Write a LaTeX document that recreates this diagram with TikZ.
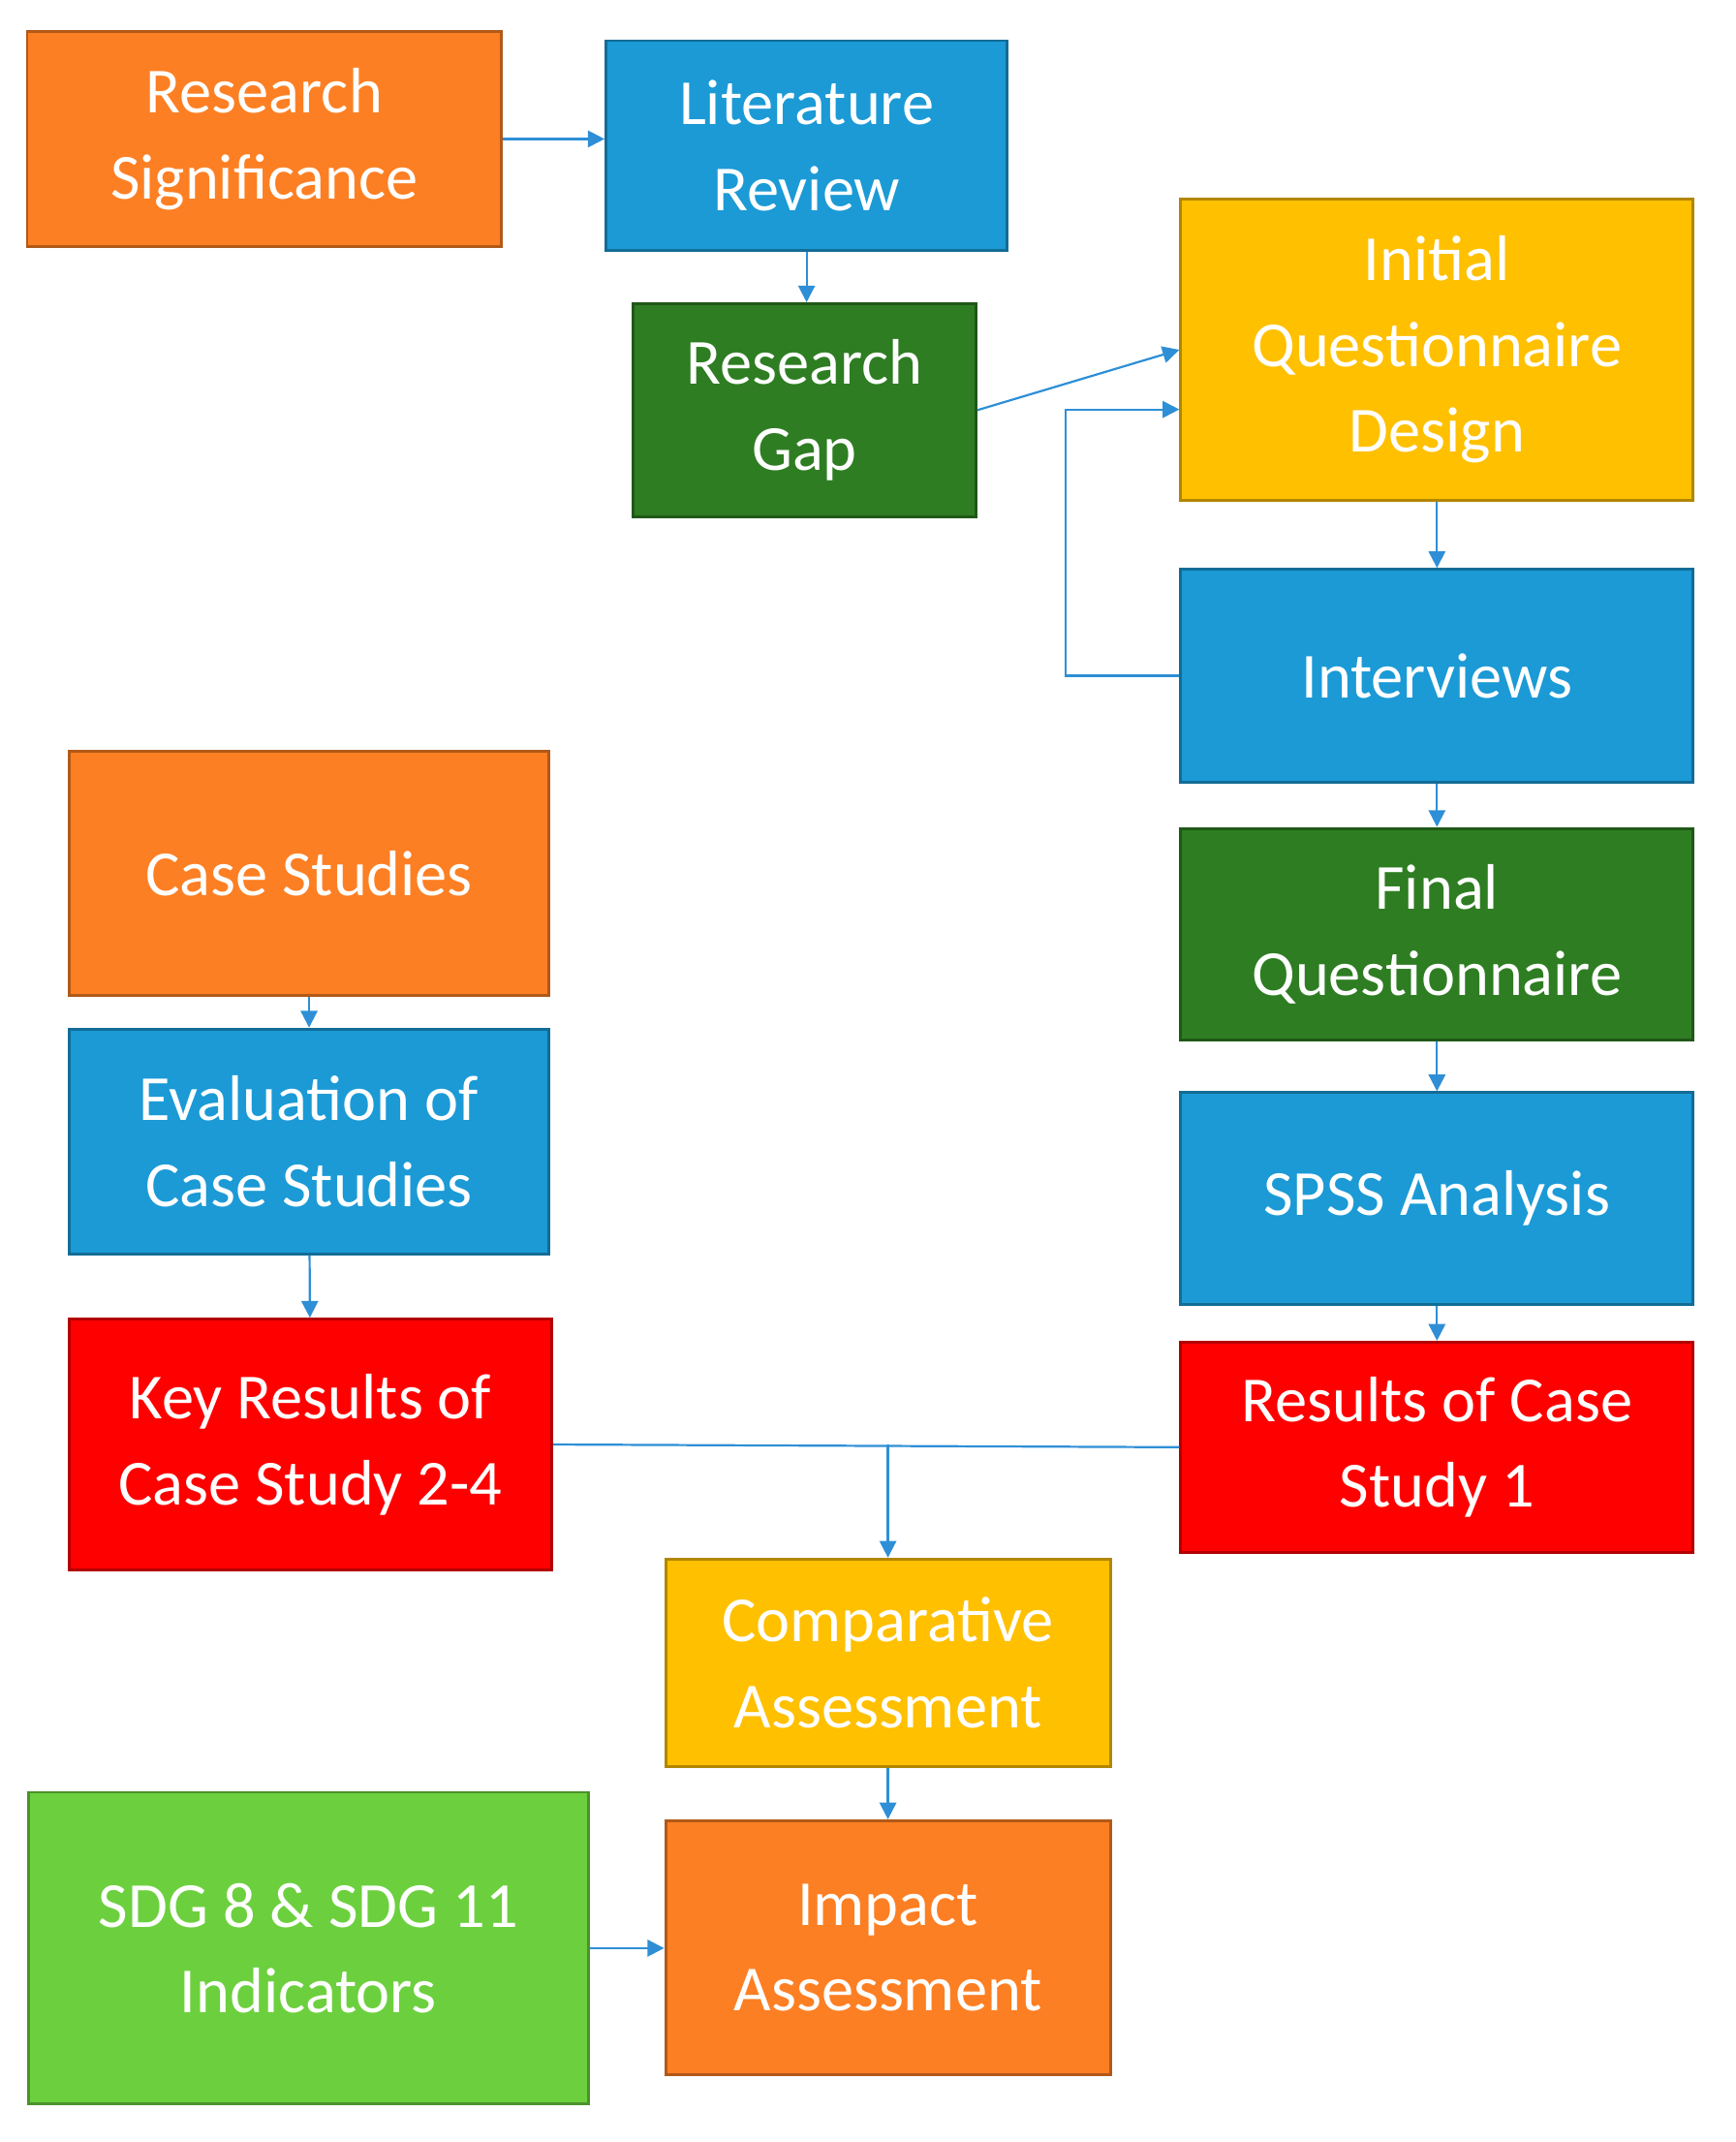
\documentclass[tikz,border=0pt]{standalone}
\usepackage{fontspec}
\setmainfont{Carlito}
\usetikzlibrary{arrows.meta}
\definecolor{cOrange}{HTML}{FD7F23}
\definecolor{cBlue}{HTML}{1B9AD6}
\definecolor{cDark}{HTML}{2E7D22}
\definecolor{cYellow}{HTML}{FFC000}
\definecolor{cRed}{HTML}{FF0000}
\definecolor{cLight}{HTML}{6CD03E}
\definecolor{cLine}{HTML}{2E8FD6}
\tikzset{
  box/.style={draw=#1!70!black, fill=#1, line width=1.2pt, text=white, align=center,
    inner sep=0pt, font=\fontsize{27}{36}\selectfont},
  link/.style={draw=cLine, line width=0.9pt, -{Triangle[length=7pt,width=7pt]}}
}
\begin{document}
\begin{tikzpicture}
    \useasboundingbox (0,0) rectangle (25.6,-31.6);
    % --- --- --- top row
    \node[box=cOrange, minimum width=7cm, minimum height=3.18cm] (sig) at (3.9,-2.05) {Research\\Significance};
    \node[box=cBlue, minimum width=5.92cm, minimum height=3.1cm] (lit) at (11.9,-2.15) {Literature\\Review};
    \node[box=cDark, minimum width=5.06cm, minimum height=3.14cm] (gap) at (11.87,-6.05) {Research\\Gap};
    % --- --- --- right column
    \node[box=cYellow, minimum width=7.56cm, minimum height=4.44cm] (iqd) at (21.2,-5.16) {Initial\\Questionnaire\\Design};
    \node[box=cBlue, minimum width=7.56cm, minimum height=3.14cm] (int) at (21.2,-9.97) {Interviews};
    \node[box=cDark, minimum width=7.56cm, minimum height=3.12cm] (fq) at (21.2,-13.78) {Final\\Questionnaire};
    \node[box=cBlue, minimum width=7.56cm, minimum height=3.12cm] (spss) at (21.2,-17.68) {SPSS Analysis};
    \node[box=cRed, minimum width=7.56cm, minimum height=3.1cm] (res) at (21.2,-21.35) {Results of Case\\Study 1};
    % --- --- --- left column
    \node[box=cOrange, minimum width=7.08cm, minimum height=3.6cm] (cs) at (4.56,-12.88) {Case Studies};
    \node[box=cBlue, minimum width=7.08cm, minimum height=3.32cm] (eval) at (4.56,-16.84) {Evaluation of\\Case Studies};
    \node[box=cRed, minimum width=7.12cm, minimum height=3.7cm] (key) at (4.58,-21.31) {Key Results of\\Case Study 2-4};
    % --- --- --- bottom
    \node[box=cYellow, minimum width=6.56cm, minimum height=3.06cm] (comp) at (13.1,-24.53) {Comparative\\Assessment};
    \node[box=cOrange, minimum width=6.56cm, minimum height=3.74cm] (imp) at (13.1,-28.73) {Impact\\Assessment};
    \node[box=cLight, minimum width=8.26cm, minimum height=4.6cm] (sdg) at (4.55,-28.74) {SDG 8 \& SDG 11\\Indicators};
    % === === === links
    \draw[link] (sig.east) -- (sig.east -| lit.west);
    \draw[link] (lit.south) -- (gap.north -| lit.south);
    \draw[link] (gap.east) -- (iqd.west);
    \draw[link] (int.west) -- ++(-1.68,0) |- ([yshift=-0.88cm]iqd.west);
    \draw[link] (iqd) -- (int);
    \draw[link] (int) -- (fq);
    \draw[link] (fq) -- (spss);
    \draw[link] (spss) -- (res);
    \draw[link] (cs) -- (eval);
    \draw[link] (eval) -- (key);
    \draw[draw=cLine, line width=0.9pt] (key.east) -- (res.west);
    \draw[link] (key.east -| comp.north) -- (comp.north);
    \draw[link] (comp) -- (imp);
    \draw[link] (sdg.east) -- (sdg.east -| imp.west);
\end{tikzpicture}
\end{document}
